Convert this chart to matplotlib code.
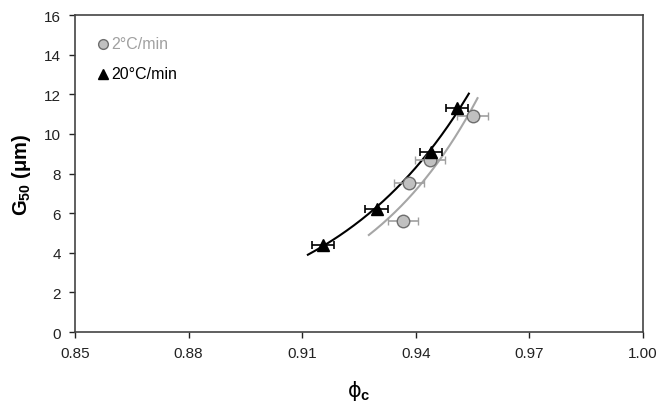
import numpy as np
import matplotlib
matplotlib.use("Agg")
import matplotlib.pyplot as plt

plt.rcParams['font.family'] = ['Liberation Sans', 'DejaVu Sans']
plt.rcParams['mathtext.fontset'] = 'custom'
plt.rcParams['mathtext.rm'] = 'Liberation Sans'
plt.rcParams['mathtext.bf'] = 'Liberation Sans:bold'
plt.rcParams['mathtext.it'] = 'Liberation Sans:italic'

# Data: 2 C/min (circles)
phi_2 = [0.9366, 0.9382, 0.9437, 0.9550]
g50_2 = [5.6, 7.5, 8.7, 10.9]
phi_err_2 = [0.004, 0.004, 0.004, 0.004]
fit_range_2 = [0.9276, 0.9563]

# Data: 20 C/min (triangles)
phi_20 = [0.9155, 0.9297, 0.9440, 0.9509]
g50_20 = [4.4, 6.2, 9.1, 11.3]
phi_err_20 = [0.003, 0.003, 0.003, 0.003]
fit_range_20 = [0.9115, 0.9540]

labels = ['2°C/min', '20°C/min']
x_ticks = [0.85, 0.88, 0.91, 0.94, 0.97, 1.00]
y_ticks = [0, 2, 4, 6, 8, 10, 12, 14, 16]

fig = plt.figure(figsize=(6.62, 4.02), dpi=100)
ax = fig.add_axes([0.1133, 0.1716, 0.8580, 0.7884])

def expfit(x, y, rng):
    b, a = np.polyfit(np.asarray(x), np.log(np.asarray(y)), 1)
    xx = np.linspace(rng[0], rng[1], 200)
    return xx, np.exp(a + b * xx)

xx, yy = expfit(phi_2, g50_2, fit_range_2)
ax.plot(xx, yy, color='#a6a6a6', lw=1.5, zorder=2)
xx, yy = expfit(phi_20, g50_20, fit_range_20)
ax.plot(xx, yy, color='black', lw=1.5, zorder=2)

ax.errorbar(phi_2, g50_2, xerr=phi_err_2, fmt='o', color='#a0a0a0',
            mfc='#c0c0c0', mec='#6e6e6e', ms=9, mew=1.0, ecolor='#a0a0a0',
            elinewidth=1.2, capsize=3, capthick=1.2, zorder=3)
ax.errorbar(phi_20, g50_20, xerr=phi_err_20, fmt='^', color='black',
            mfc='black', mec='black', ms=9, ecolor='black',
            elinewidth=1.2, capsize=3, capthick=1.2, zorder=4)

# legend (in-plot)
ax.plot([0.8573], [14.55], 'o', mfc='#c0c0c0', mec='#6e6e6e', ms=7, mew=1.0,
        clip_on=False)
ax.text(0.8596, 14.55, labels[0], color='#a0a0a0', fontsize=11.5, va='center')
ax.plot([0.8573], [13.05], '^', color='black', ms=7, clip_on=False)
ax.text(0.8596, 13.05, labels[1], color='black', fontsize=11.5, va='center')

ax.set_xlim(0.85, 1.00)
ax.set_ylim(0, 16)
ax.set_xticks(x_ticks)
ax.set_xticklabels([f'{t:.2f}' for t in x_ticks])
ax.set_yticks(y_ticks)
ax.tick_params(direction='out', length=4, width=1, labelsize=11,
               colors='#222222', pad=6)
for s in ax.spines.values():
    s.set_color('#444444')
    s.set_linewidth(1.2)

ax.set_ylabel(r'G$_{\mathbf{50}}$ (μm)', fontsize=14.5,
              fontweight='bold', labelpad=8)
ax.set_xlabel('ϕ$_{\\mathbf{c}}$', fontsize=15,
              labelpad=13, family=['DejaVu Sans'])

fig.savefig('out.png', dpi=100)
